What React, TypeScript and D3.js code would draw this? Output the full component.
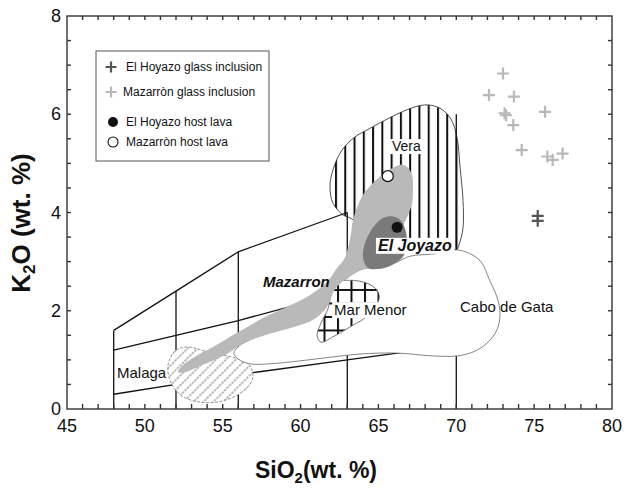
import React, { useLayoutEffect, useRef, useState } from "react";
import * as d3 from "d3";

type Pt = [number, number];

// axis ticks
const xTickLabels = [45, 50, 55, 60, 65, 70, 75, 80];
const yTickLabels = [0, 2, 4, 6, 8];

// K2O-SiO2 series boundaries (SiO2, K2O)
const lowMediumK: Pt[] = [[48, 0.3], [52, 0.5], [56, 0.7], [63, 1.0], [70, 1.3]];
const mediumHighK: Pt[] = [[48, 1.2], [52, 1.5], [56, 1.8], [63, 2.4], [70, 3.0]];
const highKShoshonite: Pt[] = [[48, 1.6], [52, 2.4], [56, 3.2], [63, 4.0]];
// vertical dividers: SiO2 and the K2O where they stop
const silicaDividers: Pt[] = [[48, 1.6], [52, 2.4], [56, 3.2], [63, 4.0], [70, 6.0]];

// glass inclusions and host lavas
const elHoyazoGlass: Pt[] = [[75.23, 3.93], [75.23, 3.83]];
const mazarronGlass: Pt[] = [
  [73.0, 6.83], [72.1, 6.39], [73.7, 6.36], [73.1, 6.02], [73.2, 5.98],
  [73.66, 5.78], [75.7, 6.05], [74.2, 5.27], [75.85, 5.14], [76.19, 5.07], [76.83, 5.2],
];
const elHoyazoLava: Pt[] = [[66.2, 3.7]];
const mazarronLava: Pt[] = [[65.6, 4.74]];

// field outlines
const veraField: Pt[] = [
  [62.73, 3.95], [62.08, 4.19], [61.89, 4.52], [62.08, 4.87], [62.66, 5.27], [63.5, 5.54],
  [64.27, 5.68], [65.42, 5.88], [66.39, 6.03], [67.35, 6.15], [68.18, 6.19], [69.02, 6.11],
  [69.66, 5.9], [70.05, 5.52], [70.24, 4.93], [70.43, 4.25], [70.43, 3.68], [70.17, 3.34],
  [69.92, 3.2], [67.67, 3.2], [65.74, 3.34], [64.14, 3.68], [63.17, 3.89],
];
const caboDeGataField: Pt[] = [
  [70.05, 3.24], [71.07, 3.13], [71.65, 2.97], [72.1, 2.65], [72.61, 2.28], [72.81, 1.95],
  [72.61, 1.61], [71.97, 1.34], [71.07, 1.16], [70.05, 1.08], [68.5, 1.08], [67.03, 1.12],
  [65.94, 1.14], [63.82, 1.12], [62.08, 1.06], [59.96, 0.98], [58.04, 0.92], [56.75, 0.92],
  [55.98, 1.02], [55.72, 1.14], [55.98, 1.26], [56.43, 1.36], [57.59, 1.51], [59.13, 1.65],
  [60.16, 1.75], [61.06, 1.89], [61.7, 2.1], [61.95, 2.3], [62.28, 2.48], [62.92, 2.65],
  [63.56, 2.79], [64.27, 2.87], [65.29, 2.87], [66.19, 2.99], [67.03, 3.11], [68.63, 3.16],
];
const marMenorField: Pt[] = [
  [62.08, 2.56], [63.17, 2.62], [64.27, 2.56], [64.91, 2.42], [65.04, 2.24], [64.27, 1.89],
  [63.17, 1.67], [62.08, 1.47], [61.31, 1.36], [61.06, 1.49], [61.31, 1.75], [61.76, 2.04],
  [61.95, 2.34],
];
const malagaField: Pt[] = [
  [51.81, 1.14], [52.26, 1.24], [52.9, 1.26], [53.61, 1.2], [54.38, 1.14], [55.28, 1.08],
  [56.17, 1.0], [56.75, 0.88], [56.94, 0.65], [56.56, 0.43], [55.66, 0.24], [54.63, 0.14],
  [53.54, 0.14], [52.51, 0.24], [51.87, 0.43], [51.55, 0.65], [51.49, 0.9],
];
const mazarronField: Pt[] = [
  [52.13, 0.75], [52.39, 0.88], [53.09, 1.04], [54.38, 1.26], [55.92, 1.55], [57.59, 1.85],
  [59.13, 2.08], [60.61, 2.32], [61.76, 2.61], [62.34, 2.87], [62.79, 3.05], [63.05, 3.28],
  [63.24, 3.58], [63.37, 3.85], [63.62, 4.09], [64.01, 4.36], [64.65, 4.6], [65.29, 4.78],
  [65.94, 4.91], [66.45, 4.97], [66.83, 4.93], [67.16, 4.76], [67.22, 4.5], [67.16, 4.19],
  [66.9, 3.95], [66.58, 3.73], [66.13, 3.34], [65.23, 2.99], [64.2, 2.87], [63.5, 2.77],
  [62.85, 2.63], [62.21, 2.44], [61.76, 2.12], [61.06, 1.87], [60.16, 1.73], [59.13, 1.63],
  [57.59, 1.49], [56.3, 1.34], [55.66, 1.2], [55.15, 1.1], [53.73, 0.9], [52.58, 0.75],
];
const elJoyazoField: Pt[] = [
  [65.29, 3.89], [65.94, 3.92], [66.45, 3.83], [66.77, 3.6], [66.83, 3.34], [66.64, 3.13],
  [66.19, 2.99], [65.29, 2.87], [64.33, 2.87], [64.01, 3.09], [64.14, 3.38], [64.46, 3.6],
  [64.91, 3.79],
];

// field labels: [text, SiO2, K2O]
const fieldLabels = [
  { text: "Vera", at: [65.87, 5.25] as Pt, bold: false, size: 14, boxed: true },
  { text: "El Joyazo", at: [64.97, 3.22] as Pt, bold: true, size: 16, boxed: true },
  { text: "Mazarron", at: [57.59, 2.48] as Pt, bold: true, size: 15, boxed: false },
  { text: "Mar Menor", at: [62.15, 1.91] as Pt, bold: false, size: 15, boxed: true },
  { text: "Cabo de Gata", at: [70.24, 1.97] as Pt, bold: false, size: 15, boxed: false },
  { text: "Malaga", at: [48.21, 0.63] as Pt, bold: false, size: 15, boxed: false },
];

const legendLabels = [
  "El Hoyazo glass inclusion",
  "Mazarròn glass inclusion",
  "El Hoyazo host lava",
  "Mazarròn host lava",
];

const FONT = "'Liberation Sans', Arial, Helvetica, sans-serif";
const W = 627;
const H = 490;
const M = { left: 67, right: 612, top: 16, bottom: 409 };

const x = d3.scaleLinear().domain([45, 80]).range([M.left, M.right]);
const y = d3.scaleLinear().domain([0, 8]).range([M.bottom, M.top]);

const line = d3.line<Pt>().x((d) => x(d[0])).y((d) => y(d[1]));
const blob = d3
  .line<Pt>()
  .x((d) => x(d[0]))
  .y((d) => y(d[1]))
  .curve(d3.curveCatmullRomClosed.alpha(0.5));

function Cross({ cx, cy, color, r = 6 }: { cx: number; cy: number; color: string; r?: number }) {
  return (
    <path
      d={`M${cx - r},${cy}H${cx + r}M${cx},${cy - r}V${cy + r}`}
      stroke={color}
      strokeWidth={2.2}
      fill="none"
    />
  );
}

function FieldLabel({ text, px, py, bold, size, boxed }: any) {
  const ref = useRef<SVGTextElement>(null);
  const [box, setBox] = useState<{ x: number; y: number; w: number; h: number } | null>(null);
  useLayoutEffect(() => {
    if (boxed && ref.current) {
      const b = ref.current.getBBox();
      setBox({ x: b.x, y: b.y, w: b.width, h: b.height });
    }
  }, [text, px, py, boxed]);
  return (
    <g>
      {boxed && box && (
        <rect x={box.x - 2} y={box.y + 1} width={box.w + 4} height={box.h - 1} fill="white" />
      )}
      <text
        ref={ref}
        x={px}
        y={py}
        fontSize={size}
        fontWeight={bold ? "bold" : "normal"}
        fontStyle={bold ? "italic" : "normal"}
        fill="#111"
      >
        {text}
      </text>
    </g>
  );
}

export default function App() {
  const xMinor = d3.range(46, 80, 1);
  const yMinor = d3.range(0.5, 8, 0.5);
  const legendRows = [67, 92, 122, 142];

  return (
    <svg
      width={W}
      height={H}
      style={{ position: "absolute", left: 0, top: 0, background: "white" }}
      fontFamily={FONT}
    >
      <defs>
        <pattern id="vstripes" patternUnits="userSpaceOnUse" x={335} y={0} width={9.27} height={10}>
          <rect x={0} y={0} width={2} height={10} fill="#111" />
        </pattern>
        <pattern id="grid" patternUnits="userSpaceOnUse" x={337} y={289} width={13.5} height={13.5}>
          <path d="M1,0V13.5M0,1H13.5" stroke="#111" strokeWidth={2} />
        </pattern>
        <pattern
          id="hatch"
          patternUnits="userSpaceOnUse"
          width={7}
          height={7}
          patternTransform="rotate(45)"
        >
          <line x1={1} y1={0} x2={1} y2={7} stroke="#9a9a9a" strokeWidth={1.4} strokeDasharray="2.5 1" />
        </pattern>
      </defs>

      {/* Vera */}
      <path d={blob(veraField) ?? ""} fill="white" />
      <path d={blob(veraField) ?? ""} fill="url(#vstripes)" stroke="#222" strokeWidth={0.8} />

      {/* series boundaries */}
      <g stroke="#111" strokeWidth={1.3} fill="none">
        <path d={line(lowMediumK) ?? ""} />
        <path d={line(mediumHighK) ?? ""} />
        <path d={line(highKShoshonite) ?? ""} />
        {silicaDividers.map(([s, k]) => (
          <line key={s} x1={x(s)} x2={x(s)} y1={y(0)} y2={y(k)} />
        ))}
      </g>

      {/* Malaga */}
      <path d={blob(malagaField) ?? ""} fill="white" />
      <path
        d={blob(malagaField) ?? ""}
        fill="url(#hatch)"
        stroke="#8a8a8a"
        strokeWidth={0.9}
        strokeDasharray="3 1.5"
      />

      {/* Cabo de Gata */}
      <path d={blob(caboDeGataField) ?? ""} fill="white" stroke="#666" strokeWidth={0.8} />

      {/* Mar Menor */}
      <path d={blob(marMenorField) ?? ""} fill="white" />
      <path d={blob(marMenorField) ?? ""} fill="url(#grid)" stroke="#555" strokeWidth={0.8} />

      {/* Mazarron and El Joyazo */}
      <path d={blob(mazarronField) ?? ""} fill="#b9b9b9" />
      <path d={blob(elJoyazoField) ?? ""} fill="#7a7a7a" />

      {/* host lavas */}
      {mazarronLava.map((d, i) => (
        <circle key={"ml" + i} cx={x(d[0])} cy={y(d[1])} r={5.5} fill="white" stroke="#111" strokeWidth={1.2} />
      ))}
      {elHoyazoLava.map((d, i) => (
        <circle key={"el" + i} cx={x(d[0])} cy={y(d[1])} r={5.5} fill="#111" />
      ))}

      {/* glass inclusions */}
      {mazarronGlass.map((d, i) => (
        <Cross key={"mg" + i} cx={x(d[0])} cy={y(d[1])} color="#b8b8b8" />
      ))}
      {elHoyazoGlass.map((d, i) => (
        <Cross key={"eg" + i} cx={x(d[0])} cy={y(d[1])} color="#555" />
      ))}

      {/* field labels */}
      {fieldLabels.map((l) => (
        <FieldLabel
          key={l.text}
          text={l.text}
          px={x(l.at[0])}
          py={y(l.at[1])}
          bold={l.bold}
          size={l.size}
          boxed={l.boxed}
        />
      ))}

      {/* frame and ticks */}
      <g stroke="#333" strokeWidth={1.4} fill="none">
        <rect x={M.left} y={M.top} width={M.right - M.left} height={M.bottom - M.top} />
        {xMinor.map((v) => (
          <g key={"xt" + v}>
            <line x1={x(v)} x2={x(v)} y1={M.bottom} y2={M.bottom - 5} />
            <line x1={x(v)} x2={x(v)} y1={M.top} y2={M.top + 4} />
          </g>
        ))}
        {yMinor.map((v) => (
          <g key={"yt" + v}>
            <line x1={M.left} x2={M.left + 4} y1={y(v)} y2={y(v)} />
            <line x1={M.right} x2={M.right - 4} y1={y(v)} y2={y(v)} />
          </g>
        ))}
      </g>

      {/* tick labels */}
      <g fontSize={18} fill="#111">
        {xTickLabels.map((v) => (
          <text key={"xl" + v} x={x(v)} y={M.bottom + 23} textAnchor="middle">
            {v}
          </text>
        ))}
        {yTickLabels.map((v) => (
          <text key={"yl" + v} x={M.left - 6} y={y(v) + 6} textAnchor="end">
            {v}
          </text>
        ))}
      </g>

      {/* axis titles */}
      <text x={316} y={478} textAnchor="middle" fontSize={23} fontWeight="bold" fill="#111">
        SiO
        <tspan fontSize={15} dy={5}>
          2
        </tspan>
        <tspan dy={-5}>(wt. %)</tspan>
      </text>
      <text
        transform="translate(30,223) rotate(-90)"
        textAnchor="middle"
        fontSize={26}
        fontWeight="bold"
        fill="#111"
      >
        K
        <tspan fontSize={17} dy={5}>
          2
        </tspan>
        <tspan dy={-5}>O (wt. %)</tspan>
      </text>

      {/* legend */}
      <rect x={96} y={51} width={173} height={110} fill="white" stroke="#555" strokeWidth={1} />
      <Cross cx={111} cy={legendRows[0]} color="#555" r={5.5} />
      <Cross cx={111} cy={legendRows[1]} color="#b8b8b8" r={5.5} />
      <circle cx={113} cy={legendRows[2]} r={5} fill="#111" />
      <circle cx={113} cy={legendRows[3]} r={5} fill="white" stroke="#111" strokeWidth={1.1} />
      <g fontSize={12} fill="#111">
        {legendLabels.map((t, i) => (
          <text key={t} x={i === 1 ? 123 : 126} y={legendRows[i] + 4.3}>
            {t}
          </text>
        ))}
      </g>
    </svg>
  );
}
